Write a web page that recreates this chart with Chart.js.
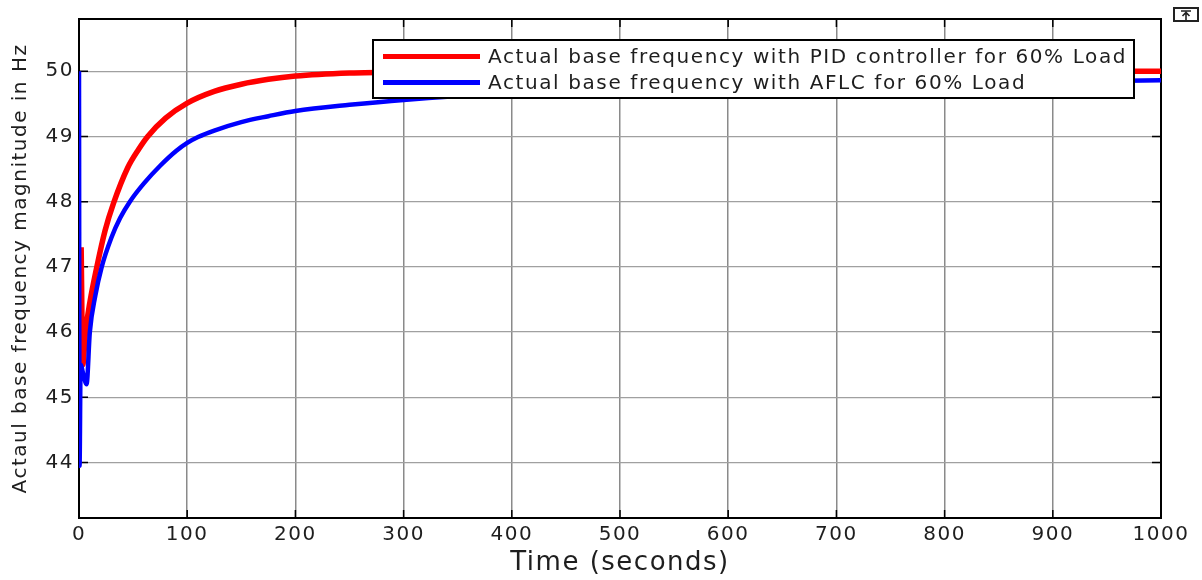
<!DOCTYPE html>
<html>
<head>
<meta charset="utf-8">
<script src="https://cdn.jsdelivr.net/npm/chart.js@4.4.1/dist/chart.umd.min.js"></script>
<style>
  body { margin: 0; background: #fff; }
  #wrap { position: relative; width: 1202px; height: 580px; }
  #zoomBtn { position: absolute; left: 1173px; top: 7px; }
</style>
</head>
<body>
<div id="wrap">
  <canvas id="freqChart" width="1202" height="580"></canvas>
  <svg id="zoomBtn" width="26" height="15" viewBox="0 0 26 15">
    <rect x="1" y="1" width="24" height="13" fill="#fff" stroke="#222" stroke-width="2"/>
    <path d="M8 4 H18 M13 5 V13 M9.5 9 L13 5.5 L16.5 9" stroke="#222" stroke-width="1.6" fill="none"/>
  </svg>
</div>
<script>
// time in seconds, frequency in Hz
const pidTime = [2, 3.5, 6, 10, 16.5, 24, 32, 45, 55, 63.5, 80, 100, 125, 150, 175, 200, 250, 300, 400, 600, 800, 1000];
const pidFreq = [47.3, 45.5, 46.0, 46.45, 47.0, 47.55, 47.98, 48.52, 48.8, 49.0, 49.28, 49.51, 49.69, 49.8, 49.875, 49.925, 49.972, 49.99, 50.0, 50.0, 50.0, 50.0];

const aflcTime = [0, 0.5, 1.5, 4, 7, 10, 15, 21, 30, 38, 47, 60, 75, 90, 100, 110, 125, 150, 175, 200, 250, 300, 400, 500, 600, 700, 800, 900, 1000];
const aflcFreq = [50, 43.95, 45.5, 45.35, 45.2, 46.0, 46.55, 47.0, 47.45, 47.75, 48.0, 48.28, 48.55, 48.78, 48.9, 48.99, 49.09, 49.22, 49.31, 49.39, 49.485, 49.56, 49.66, 49.72, 49.76, 49.79, 49.82, 49.84, 49.86];

const seriesLabels = [
  'Actual base frequency with PID controller for 60% Load',
  'Actual base frequency with AFLC for 60% Load'
];

const xTicks = [0, 100, 200, 300, 400, 500, 600, 700, 800, 900, 1000];
const yTicks = [44, 45, 46, 47, 48, 49, 50];

const FONT = 'DejaVu Sans';
const TEXT = '#1e1e1e';

const toPoints = (ts, vs) => ts.map((t, i) => ({ x: t, y: vs[i] }));

// axes box with inward tick marks on all four sides
const frame = {
  id: 'frame',
  beforeDraw(chart) {
    chart.ctx.letterSpacing = '1.5px';
  },
  beforeDatasetsDraw(chart) {
    const { ctx, chartArea: a, scales: { x, y } } = chart;
    ctx.save();
    ctx.strokeStyle = '#000';
    ctx.lineWidth = 1.5;
    ctx.beginPath();
    xTicks.forEach(v => {
      const px = x.getPixelForValue(v);
      ctx.moveTo(px, a.top); ctx.lineTo(px, a.top + 8);
      ctx.moveTo(px, a.bottom); ctx.lineTo(px, a.bottom - 8);
    });
    yTicks.forEach(v => {
      const py = y.getPixelForValue(v);
      ctx.moveTo(a.left, py); ctx.lineTo(a.left + 9, py);
      ctx.moveTo(a.right, py); ctx.lineTo(a.right - 9, py);
    });
    ctx.stroke();
    ctx.lineWidth = 2;
    ctx.strokeRect(a.left, a.top, a.right - a.left, a.bottom - a.top);
    ctx.restore();
  }
};

// boxed legend in the upper right of the plot
const legendBox = {
  id: 'legendBox',
  afterDatasetsDraw(chart) {
    const ctx = chart.ctx;
    ctx.save();
    ctx.fillStyle = '#fff';
    ctx.fillRect(373, 40, 761, 58);
    ctx.strokeStyle = '#000';
    ctx.lineWidth = 2;
    ctx.strokeRect(373, 40, 761, 58);
    ctx.font = `20px '${FONT}'`;
    ctx.textBaseline = 'middle';
    ctx.letterSpacing = '1.6px';
    chart.data.datasets.forEach((ds, i) => {
      const ly = 56.5 + i * 26;
      ctx.strokeStyle = ds.borderColor;
      ctx.lineWidth = 5;
      ctx.beginPath();
      ctx.moveTo(383, ly);
      ctx.lineTo(480, ly);
      ctx.stroke();
      ctx.fillStyle = TEXT;
      ctx.fillText(ds.label, 488, ly + 1);
    });
    ctx.restore();
  }
};

new Chart(document.getElementById('freqChart'), {
  type: 'line',
  data: {
    datasets: [{
      label: seriesLabels[0],
      data: toPoints(pidTime, pidFreq),
      borderColor: '#ff0000',
      borderWidth: 5.5,
      order: 1
    }, {
      label: seriesLabels[1],
      data: toPoints(aflcTime, aflcFreq),
      borderColor: '#0000ff',
      borderWidth: 4.5,
      order: 0
    }]
  },
  options: {
    responsive: false,
    animation: false,
    devicePixelRatio: 1,
    events: [],
    layout: { padding: { top: 19, right: 41, left: 0, bottom: 0 } },
    elements: {
      point: { radius: 0 },
      line: { cubicInterpolationMode: 'monotone', borderJoinStyle: 'round', fill: false }
    },
    plugins: { legend: { display: false }, tooltip: { enabled: false } },
    scales: {
      x: {
        type: 'linear',
        min: 0,
        max: 1000,
        afterBuildTicks: s => { s.ticks = xTicks.map(v => ({ value: v })); },
        afterFit: s => { s.height = 62; },
        grid: { color: '#8a8a8a', lineWidth: 1.5, drawTicks: false },
        border: { display: false },
        ticks: {
          padding: 5, color: TEXT, maxRotation: 0, autoSkip: false,
          font: { family: FONT, size: 20 },
          callback: v => String(v)
        },
        title: {
          display: true, text: 'Time (seconds)', color: TEXT,
          font: { family: FONT, size: 26, lineHeight: 1 },
          padding: { top: 0, bottom: 4 }
        }
      },
      y: {
        min: 43.15,
        max: 50.8,
        afterBuildTicks: s => { s.ticks = yTicks.map(v => ({ value: v })); },
        afterFit: s => { s.width = 79; },
        grid: { color: '#a0a0a0', lineWidth: 1.2, drawTicks: false },
        border: { display: false },
        ticks: {
          padding: 5, color: TEXT,
          font: { family: FONT, size: 20 },
          callback: v => String(v)
        },
        title: {
          display: true, text: 'Actaul base frequency magnitude in Hz', color: TEXT,
          font: { family: FONT, size: 20, lineHeight: 1 },
          padding: { top: 10.5, bottom: 0 }
        }
      }
    }
  },
  plugins: [frame, legendBox]
});
</script>
</body>
</html>
